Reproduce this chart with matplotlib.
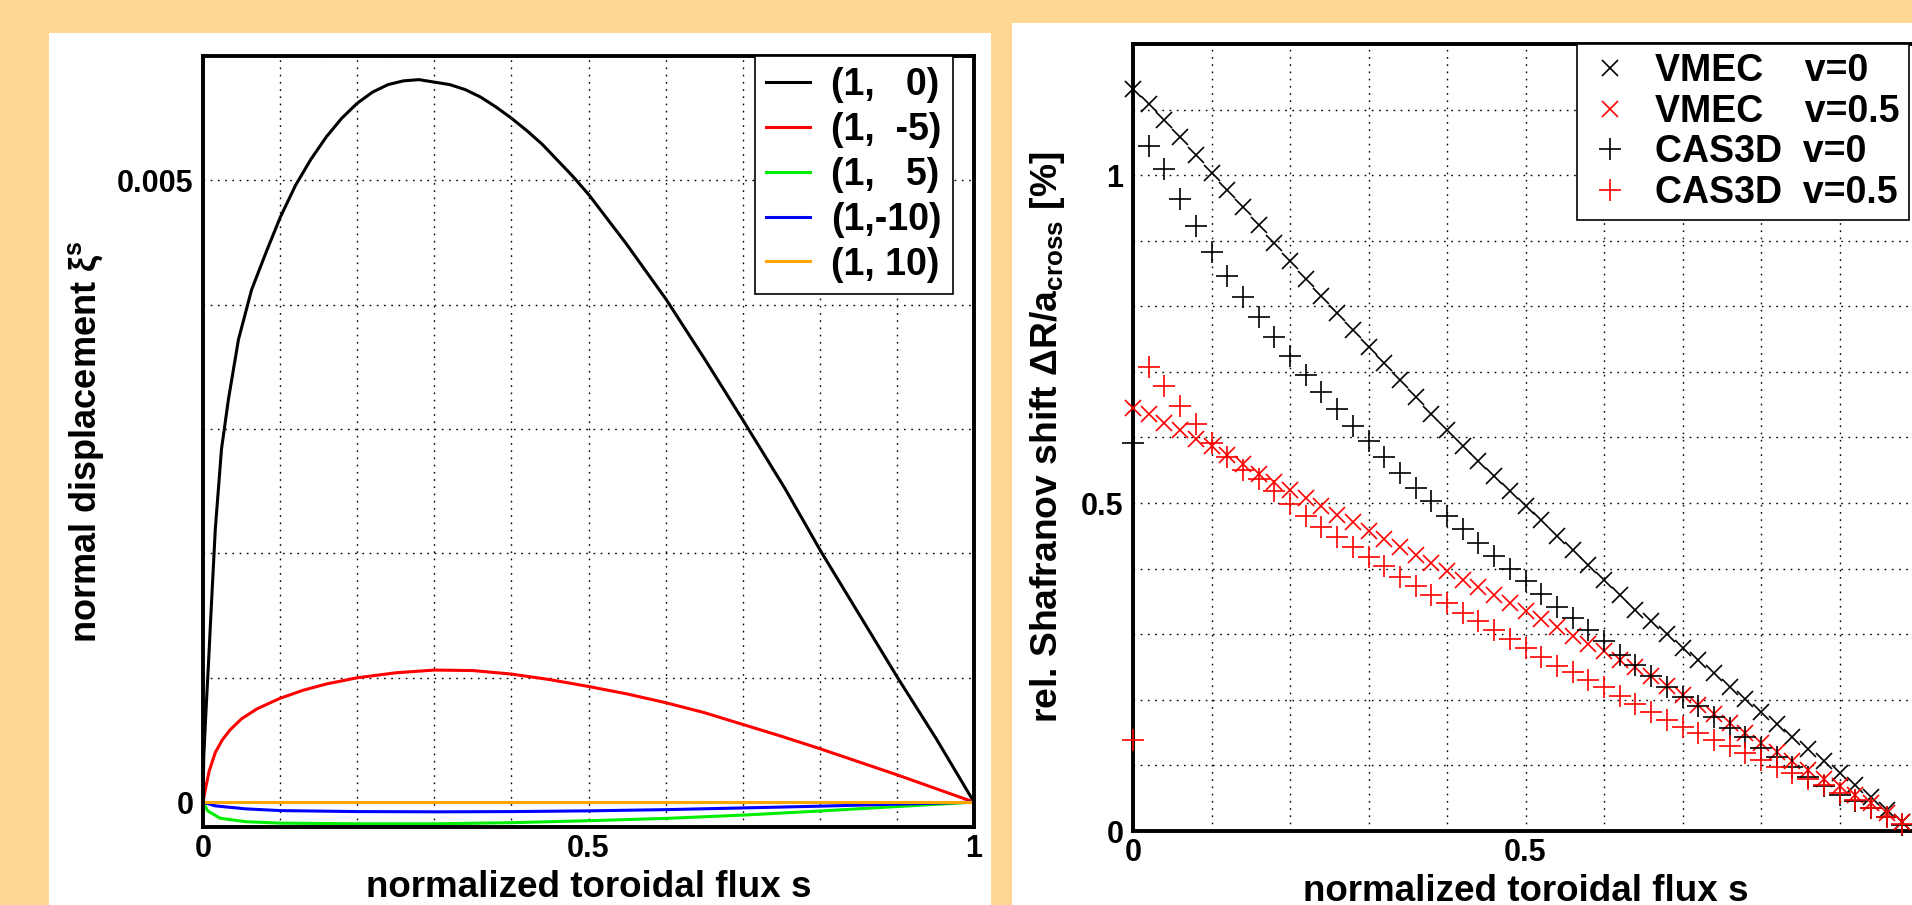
import numpy as np
import matplotlib
matplotlib.use("Agg")
import matplotlib.pyplot as plt
from matplotlib.patches import Rectangle

plt.rcParams["font.family"] = ["Liberation Sans", "DejaVu Sans"]
plt.rcParams["font.weight"] = "bold"
plt.rcParams["mathtext.fontset"] = "custom"
plt.rcParams["mathtext.rm"] = "Liberation Sans:bold"
plt.rcParams["mathtext.bf"] = "Liberation Sans:bold"
plt.rcParams["mathtext.it"] = "Liberation Sans:bold:italic"

# ---- left panel: normal displacement of the (m, n) harmonics (units of 1e-3) ----
s_00 = [0.0, 0.001, 0.004, 0.007, 0.011, 0.016, 0.024, 0.033, 0.046, 0.063,
        0.083, 0.10, 0.12, 0.14, 0.16, 0.18, 0.20, 0.22, 0.24, 0.26,
        0.28, 0.30, 0.32, 0.34, 0.36, 0.38, 0.40, 0.42, 0.44, 0.46,
        0.48, 0.501, 0.549, 0.601, 0.652, 0.701, 0.755, 0.802, 0.853, 0.901,
        0.951, 1.0]
xi_00 = [0.0, 0.37, 0.75, 1.10, 1.60, 2.20, 2.84, 3.24, 3.72, 4.12,
         4.44, 4.70, 4.96, 5.17, 5.35, 5.50, 5.62, 5.71, 5.77, 5.80,
         5.81, 5.79, 5.77, 5.73, 5.67, 5.59, 5.50, 5.40, 5.29, 5.16,
         5.03, 4.88, 4.49, 4.04, 3.55, 3.065, 2.52, 2.01, 1.49, 1.00,
         0.51, 0.0]

s_m5 = [0.0, 0.003, 0.008, 0.016, 0.025, 0.035, 0.05, 0.07, 0.10, 0.13,
        0.16, 0.20, 0.25, 0.30, 0.35, 0.40, 0.45, 0.50, 0.55, 0.60,
        0.65, 0.70, 0.75, 0.80, 0.85, 0.90, 0.95, 1.0]
xi_m5 = [0.0, 0.10, 0.25, 0.40, 0.50, 0.58, 0.67, 0.75, 0.835, 0.90,
         0.95, 1.00, 1.04, 1.062, 1.058, 1.03, 0.985, 0.93, 0.87, 0.80,
         0.72, 0.625, 0.53, 0.43, 0.325, 0.22, 0.11, 0.0]

s_p5 = [0.0, 0.006, 0.022, 0.055, 0.10, 0.20, 0.305, 0.403, 0.502, 0.604,
        0.705, 0.804, 0.902, 1.0]
xi_p5 = [0.0, -0.07, -0.129, -0.157, -0.169, -0.174, -0.174, -0.165, -0.149, -0.13,
         -0.103, -0.07, -0.035, 0.0]

s_m10 = [0.0, 0.016, 0.055, 0.10, 0.20, 0.305, 0.403, 0.502, 0.604, 0.705,
         0.804, 0.902, 1.0]
xi_m10 = [0.0, -0.03, -0.054, -0.068, -0.076, -0.078, -0.076, -0.07, -0.06, -0.046,
          -0.032, -0.016, 0.0]

s_p10 = [0.0, 1.0]
xi_p10 = [0.0, 0.0]

harmonic_labels = ["(1,   0)", "(1,  -5)", "(1,   5)", "(1,-10)", "(1, 10)"]
harmonic_colors = ["black", "#ff0000", "#00ee00", "#0000ff", "#ffa500"]

# ---- right panel: Shafranov shift, VMEC vs CAS3D ----
s_grid = [0.00, 0.02, 0.04, 0.06, 0.08, 0.10, 0.12, 0.14, 0.16, 0.18,
          0.20, 0.22, 0.24, 0.26, 0.28, 0.30, 0.32, 0.34, 0.36, 0.38,
          0.40, 0.42, 0.44, 0.46, 0.48, 0.50, 0.52, 0.54, 0.56, 0.58,
          0.60, 0.62, 0.64, 0.66, 0.68, 0.70, 0.72, 0.74, 0.76, 0.78,
          0.80, 0.82, 0.84, 0.86, 0.88, 0.90, 0.92, 0.94, 0.96, 0.98]
vmec_v0 = [1.131, 1.109, 1.084, 1.058, 1.031, 1.004, 0.977, 0.951, 0.924, 0.896,
           0.869, 0.842, 0.816, 0.790, 0.764, 0.738, 0.713, 0.687, 0.662, 0.636,
           0.611, 0.587, 0.564, 0.542, 0.519, 0.496, 0.474, 0.450, 0.428, 0.405,
           0.382, 0.360, 0.337, 0.320, 0.301, 0.279, 0.261, 0.241, 0.220, 0.201,
           0.182, 0.163, 0.143, 0.125, 0.106, 0.088, 0.070, 0.052, 0.032, 0.014]
vmec_v05 = [0.645, 0.636, 0.622, 0.611, 0.598, 0.587, 0.573, 0.559, 0.544, 0.532,
            0.520, 0.508, 0.495, 0.482, 0.471, 0.458, 0.445, 0.433, 0.421, 0.409,
            0.396, 0.383, 0.372, 0.360, 0.348, 0.335, 0.323, 0.311, 0.298, 0.285,
            0.274, 0.261, 0.250, 0.237, 0.221, 0.208, 0.192, 0.179, 0.164, 0.149,
            0.134, 0.121, 0.107, 0.093, 0.080, 0.068, 0.055, 0.042, 0.027, 0.014]
cas3d_v0 = [0.592, 1.044, 1.009, 0.963, 0.923, 0.883, 0.847, 0.814, 0.783, 0.753,
            0.724, 0.696, 0.669, 0.644, 0.618, 0.595, 0.570, 0.546, 0.523, 0.503,
            0.481, 0.460, 0.439, 0.420, 0.399, 0.381, 0.362, 0.342, 0.325, 0.307,
            0.289, 0.269, 0.253, 0.237, 0.220, 0.205, 0.190, 0.174, 0.157, 0.144,
            0.126, 0.113, 0.098, 0.083, 0.069, 0.055, 0.045, 0.035, 0.022, 0.009]
cas3d_v05 = [0.139, 0.708, 0.678, 0.648, 0.620, 0.591, 0.570, 0.551, 0.536, 0.518,
             0.499, 0.481, 0.464, 0.448, 0.433, 0.418, 0.404, 0.388, 0.374, 0.360,
             0.347, 0.332, 0.320, 0.306, 0.293, 0.279, 0.266, 0.251, 0.242, 0.231,
             0.219, 0.206, 0.194, 0.181, 0.169, 0.159, 0.150, 0.139, 0.129, 0.119,
             0.108, 0.098, 0.088, 0.080, 0.070, 0.058, 0.048, 0.035, 0.022, 0.011]
shift_labels = ["VMEC    v=0", "VMEC    v=0.5", "CAS3D  v=0", "CAS3D  v=0.5"]

left_yticks = [0, 0.001, 0.002, 0.003, 0.004, 0.005, 0.006]
left_yticklabels = ["0", "", "", "", "", "0.005", ""]
s_ticks = [0, 0.1, 0.2, 0.3, 0.4, 0.5, 0.6, 0.7, 0.8, 0.9, 1.0]
left_sticklabels = ["0", "", "", "", "", "0.5", "", "", "", "", "1"]
right_sticklabels = ["0", "", "", "", "", "0.5", "", "", "", "", ""]
right_yticks = [0, 0.1, 0.2, 0.3, 0.4, 0.5, 0.6, 0.7, 0.8, 0.9, 1.0, 1.1, 1.2]
right_yticklabels = ["0", "", "", "", "", "0.5", "", "", "", "", "1", "", ""]

W, H = 1912, 905
BG = "#fed795"


def px_rect(x0, y0, x1, y1):
    # pixel box (from top-left) -> figure fraction [l, b, w, h]
    return [x0 / W, 1 - y1 / H, (x1 - x0) / W, (y1 - y0) / H]


def style_axes(ax):
    for sp in ax.spines.values():
        sp.set_linewidth(2.8)
        sp.set_color("black")
    ax.grid(True, color="black", linestyle=(0, (1.2, 4.0)), linewidth=1.0)
    ax.set_axisbelow(True)
    ax.tick_params(length=0, labelsize=22)
    ax.tick_params(axis="x", pad=5)
    ax.tick_params(axis="y", pad=7)
    for lab in ax.get_xticklabels() + ax.get_yticklabels():
        lab.set_fontweight("bold")


fig = plt.figure(figsize=(W / 100, H / 100), dpi=100, facecolor=BG)
fig.patches.append(Rectangle((49 / W, 0), (991 - 49) / W, 1 - 33 / H,
                             transform=fig.transFigure, facecolor="white",
                             edgecolor="none", zorder=-5))
fig.patches.append(Rectangle((1012 / W, 0), 1.0, 1 - 23 / H,
                             transform=fig.transFigure, facecolor="white",
                             edgecolor="none", zorder=-5))

# left panel
ax1 = fig.add_axes(px_rect(203, 56, 974, 827))
series = [(s_00, xi_00), (s_m5, xi_m5), (s_p5, xi_p5), (s_m10, xi_m10), (s_p10, xi_p10)]
for (s, xi), lab, col in zip(series, harmonic_labels, harmonic_colors):
    ax1.plot(s, np.array(xi) * 1e-3, color=col, lw=2.2, label=lab)
ax1.set_xlim(0, 1)
ax1.set_ylim(-0.0002, 0.006)
ax1.set_xticks(s_ticks, left_sticklabels)
ax1.set_yticks(left_yticks, left_yticklabels)
style_axes(ax1)
ax1.set_xlabel("normalized toroidal flux s", fontsize=26.5, fontweight="bold", labelpad=4)
ax1.set_ylabel(r"normal displacement ξ$^{\mathbf{s}}$", fontsize=26, fontweight="bold")
ax1.yaxis.set_label_coords(-0.126, 0.5)
leg1 = ax1.legend(loc="upper right", bbox_to_anchor=(0.9728, 1.0), borderaxespad=0,
                  fancybox=False, framealpha=1, edgecolor="black",
                  handlelength=1.17, handletextpad=0.56, borderpad=0.3,
                  labelspacing=0.235, prop={"weight": "bold", "size": 27})
leg1.get_frame().set_linewidth(1.2)

# right panel
ax2 = fig.add_axes(px_rect(1133, 44, 1918, 831))
ax2.plot(s_grid, vmec_v0, ls="none", marker="x", ms=12, mew=1.2, color="black",
         label=shift_labels[0], clip_on=False, zorder=3)
ax2.plot(s_grid, vmec_v05, ls="none", marker="x", ms=12, mew=1.2, color="#ff0000",
         label=shift_labels[1], clip_on=False, zorder=3)
ax2.plot(s_grid, cas3d_v0, ls="none", marker="+", ms=15.5, mew=1.2, color="black",
         label=shift_labels[2], clip_on=False, zorder=3)
ax2.plot(s_grid, cas3d_v05, ls="none", marker="+", ms=15.5, mew=1.2, color="#ff0000",
         label=shift_labels[3], clip_on=False, zorder=3)
ax2.set_xlim(0, 1)
ax2.set_ylim(0, 1.2)
ax2.set_xticks(s_ticks, right_sticklabels)
ax2.set_yticks(right_yticks, right_yticklabels)
style_axes(ax2)
ax2.set_xlabel("normalized toroidal flux s", fontsize=26.5, fontweight="bold", labelpad=4)
ax2.set_ylabel(r"rel. Shafranov shift ΔR/a$_{\mathbf{cross}}$ [%]", fontsize=26.8,
               fontweight="bold")
ax2.yaxis.set_label_coords(-0.084, 0.5)
leg2 = ax2.legend(loc="upper right", bbox_to_anchor=(0.9885, 1.0), borderaxespad=0,
                  fancybox=False, framealpha=1, edgecolor="black",
                  handlelength=1.28, handletextpad=0.56, borderpad=0.25,
                  labelspacing=0.12, prop={"weight": "bold", "size": 27})
leg2.set_zorder(5)
leg2.get_frame().set_linewidth(1.2)

fig.savefig("out.png", dpi=100, facecolor=BG)
